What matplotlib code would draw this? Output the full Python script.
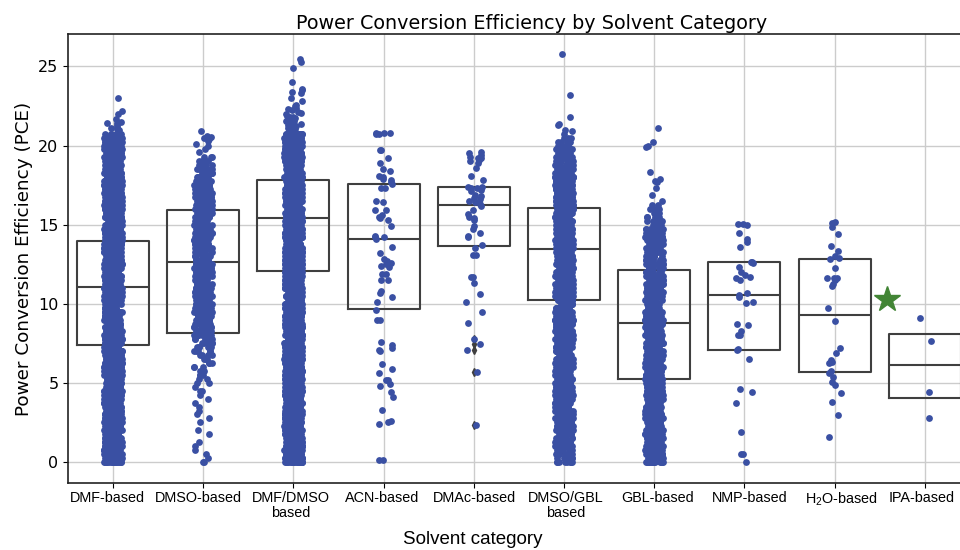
import matplotlib
matplotlib.use("Agg")
import matplotlib.pyplot as plt
from matplotlib.transforms import offset_copy
import numpy as np

# categories and tick labels
categories = ["DMF-based", "DMSO-based", "DMF/DMSO based", "ACN-based", "DMAc-based",
              "DMSO/GBL based", "GBL-based", "NMP-based", "H2O-based", "IPA-based"]
tick_labels = ["DMF-based", "DMSO-based", "DMF/DMSO\nbased", "ACN-based", "DMAc-based",
               "DMSO/GBL\nbased", "GBL-based", "NMP-based", "H$_2$O-based", "IPA-based"]

# box statistics
q1 = [7.40, 8.17, 12.07, 9.67, 13.65, 10.24, 5.27, 7.08, 5.69, 4.03]
med = [11.04, 12.62, 15.40, 14.10, 16.22, 13.44, 8.77, 10.56, 9.31, 6.13]
q3 = [13.97, 15.93, 17.83, 17.55, 17.40, 16.03, 12.14, 12.62, 12.83, 8.07]
fliers = [[], [], [], [], [7.8, 7.46, 7.1, 5.7, 2.34], [0.55, 1.0, 1.5], [], [], [], []]

# highlighted device (green star)
star_pos = [8.58]
star_pce = [10.28]

# dense columns: how many points sit at each PCE level (one row = 3 PCE units)
pce_levels = [
    0.0, 0.25, 0.5, 0.75, 1.0, 1.25, 1.5, 1.75, 2.0, 2.25, 2.5, 2.75,
    3.0, 3.25, 3.5, 3.75, 4.0, 4.25, 4.5, 4.75, 5.0, 5.25, 5.5, 5.75,
    6.0, 6.25, 6.5, 6.75, 7.0, 7.25, 7.5, 7.75, 8.0, 8.25, 8.5, 8.75,
    9.0, 9.25, 9.5, 9.75, 10.0, 10.25, 10.5, 10.75, 11.0, 11.25, 11.5, 11.75,
    12.0, 12.25, 12.5, 12.75, 13.0, 13.25, 13.5, 13.75, 14.0, 14.25, 14.5, 14.75,
    15.0, 15.25, 15.5, 15.75, 16.0, 16.25, 16.5, 16.75, 17.0, 17.25, 17.5, 17.75,
    18.0, 18.25, 18.5, 18.75, 19.0, 19.25, 19.5, 19.75, 20.0, 20.25, 20.5, 20.75,
]
dmf_counts = [
    20, 20, 20, 20, 20, 20, 20, 20, 20, 20, 20, 20,
    20, 20, 20, 20, 20, 20, 20, 20, 20, 20, 20, 20,
    20, 20, 20, 20, 20, 20, 20, 20, 20, 20, 20, 20,
    20, 20, 20, 20, 20, 20, 20, 20, 20, 20, 20, 20,
    20, 20, 20, 20, 20, 20, 20, 20, 20, 20, 20, 20,
    20, 20, 20, 20, 20, 20, 20, 20, 20, 20, 20, 20,
    20, 20, 20, 20, 20, 20, 20, 20, 20, 18, 12, 5,
]
dmso_counts = [
    2, 1, 1, 1, 1, 1, 0, 1, 1, 0, 1, 1,
    1, 1, 1, 1, 1, 1, 2, 1, 2, 2, 3, 3,
    3, 3, 4, 4, 5, 5, 6, 8, 10, 12, 12, 12,
    12, 12, 12, 12, 12, 12, 12, 12, 12, 12, 12, 12,
    12, 12, 12, 12, 12, 12, 12, 12, 12, 12, 12, 12,
    12, 12, 12, 12, 12, 12, 12, 12, 12, 12, 12, 12,
    10, 9, 7, 5, 4, 3, 0, 0, 0, 0, 0, 0,
]
dmfdmso_counts = [
    20, 20, 20, 20, 20, 20, 20, 20, 20, 20, 20, 20,
    20, 20, 20, 20, 20, 20, 20, 20, 20, 20, 20, 20,
    20, 20, 20, 20, 20, 20, 20, 20, 20, 20, 20, 20,
    20, 20, 20, 20, 20, 20, 20, 20, 20, 20, 20, 20,
    20, 20, 20, 20, 20, 20, 20, 20, 20, 20, 20, 20,
    20, 20, 20, 20, 20, 20, 20, 20, 20, 20, 20, 20,
    20, 20, 20, 20, 20, 20, 20, 20, 20, 20, 20, 18,
]
dmsogbl_counts = [
    8, 8, 9, 9, 10, 10, 11, 12, 13, 14, 15, 15,
    16, 16, 16, 16, 16, 16, 16, 16, 16, 16, 16, 16,
    16, 16, 16, 16, 16, 16, 16, 16, 16, 16, 16, 16,
    16, 16, 16, 16, 16, 16, 16, 16, 16, 16, 16, 16,
    16, 16, 16, 16, 16, 16, 16, 16, 16, 16, 16, 16,
    16, 16, 16, 16, 16, 16, 16, 16, 16, 16, 16, 16,
    14, 13, 12, 11, 10, 9, 8, 7, 6, 5, 3, 1,
]
gbl_counts = [
    14, 14, 13, 12, 12, 12, 12, 12, 12, 12, 12, 12,
    12, 12, 12, 12, 12, 12, 12, 12, 12, 12, 12, 12,
    12, 12, 12, 12, 12, 12, 12, 12, 12, 12, 12, 12,
    12, 12, 12, 12, 12, 12, 12, 12, 12, 12, 12, 12,
    12, 12, 12, 12, 11, 11, 10, 10, 9, 9, 8, 8,
    7, 6, 5, 4, 3, 2, 1, 0, 0, 0, 0, 0,
    0, 0, 0, 0, 0, 0, 0, 0, 0, 0, 0, 0,
]

# single points outside the dense parts
dmf_extra = [21.0, 21.05, 21.1, 21.2, 21.3, 21.4, 21.45, 21.5, 21.7, 22.0, 22.2, 23.0]
dmso_extra = [19.6, 19.8, 20.0, 20.1, 20.3, 20.4, 20.5, 20.55, 20.6, 20.9]
dmfdmso_extra = [21.0, 21.02, 21.05, 21.08, 21.1, 21.12, 21.25, 21.28, 21.3, 21.33,
                 21.35, 21.5, 21.52, 21.55, 21.6, 21.75, 21.78, 21.8, 21.85, 22.0,
                 22.05, 22.1, 22.25, 22.3, 22.35, 22.5, 22.55, 22.8, 23.0, 23.3,
                 23.4, 23.5, 23.55, 24.0, 24.9, 25.3, 25.45]
dmsogbl_extra = [20.9, 21.0, 21.3, 21.35, 21.8, 23.2, 25.77]
gbl_extra = [16.9, 17.3, 17.7, 17.75, 17.9, 18.3, 19.9, 19.95, 20.2, 21.1]

acn_pce = [20.8, 20.8, 20.75, 20.8, 20.7, 19.7, 19.7, 19.2, 18.9, 18.5, 18.4, 18.0,
           17.8, 17.7, 17.9, 18.1, 17.6, 17.3, 17.3, 16.5, 16.4, 15.9, 15.9, 15.6,
           15.4, 15.5, 15.3, 14.9, 14.3, 14.2, 14.1, 14.2, 13.6, 13.2, 12.8, 12.6,
           12.5, 12.4, 12.7, 12.3, 11.9, 11.9, 11.5, 11.5, 10.8, 10.7, 10.4, 10.1,
           9.6, 9.0, 9.0, 7.6, 7.4, 7.2, 7.1, 7.0, 6.2, 5.9, 5.6, 5.2, 5.2, 4.9,
           4.8, 4.4, 4.1, 3.3, 2.6, 2.5, 2.4, 0.1, 0.1]
dmac_pce = [19.6, 19.5, 19.4, 19.3, 19.2, 19.1, 19.2, 19.0, 18.9, 18.6, 18.1, 17.8,
            17.4, 17.3, 17.2, 17.1, 17.4, 17.3, 16.9, 16.8, 16.6, 16.5, 16.3, 16.2,
            16.4, 16.7, 15.9, 15.7, 15.5, 15.4, 15.3, 14.9, 14.7, 14.5, 14.3, 14.2,
            13.7, 13.5, 13.1, 13.1, 11.7, 11.7, 11.3, 10.6, 10.1, 9.5, 8.8, 7.8,
            7.46, 7.1, 5.7, 2.34]
nmp_pce = [15.04, 15.04, 15.0, 14.5, 14.08, 13.9, 13.57, 12.62, 12.6, 12.65, 12.3,
           12.03, 11.8, 11.7, 11.6, 11.5, 10.7, 10.56, 10.45, 10.13, 10.03, 8.66,
           8.7, 8.3, 8.03, 8.0, 7.14, 7.1, 6.51, 4.61, 4.44, 3.75, 1.88, 0.5, 0.5, 0.0]
h2o_pce = [15.19, 15.13, 14.88, 14.41, 13.67, 13.34, 13.0, 12.8, 12.9, 12.28, 11.6,
           11.6, 11.65, 11.5, 11.25, 11.13, 9.71, 8.91, 7.19, 6.91, 6.45, 6.28, 6.3,
           5.75, 5.64, 5.39, 5.08, 4.87, 4.34, 3.81, 2.97, 1.6]
ipa_pce = [9.08, 7.67, 4.42, 2.78]

point_color = "#3a50a3"
box_color = "#3f3f3f"


def expand(counts, extra):
    return np.concatenate([np.repeat(pce_levels, counts), extra])


pce = [
    expand(dmf_counts, dmf_extra),
    expand(dmso_counts, dmso_extra),
    expand(dmfdmso_counts, dmfdmso_extra),
    np.array(acn_pce),
    np.array(dmac_pce),
    expand(dmsogbl_counts, dmsogbl_extra),
    expand(gbl_counts, gbl_extra),
    np.array(nmp_pce),
    np.array(h2o_pce),
    np.array(ipa_pce),
]

plt.rcParams["mathtext.default"] = "regular"

fig = plt.figure(figsize=(9.6, 5.5), dpi=100)
ax = fig.add_axes([0.0711, 0.1224, 0.9289, 0.8152])

# strip plot: +-0.1 horizontal jitter around each category
rng = np.random.default_rng(11)
for i, vals in enumerate(pce):
    xs = i + rng.uniform(-0.1, 0.1, len(vals))
    ax.scatter(xs, vals, s=24, color=point_color, linewidths=0, zorder=3)

stats = [dict(q1=a, med=m, q3=b, whislo=a, whishi=b, fliers=f)
         for a, m, b, f in zip(q1, med, q3, fliers)]
ax.bxp(stats, positions=range(len(categories)), widths=0.8, showcaps=False,
       manage_ticks=False, zorder=2,
       boxprops=dict(color=box_color, linewidth=1.5),
       medianprops=dict(color=box_color, linewidth=1.5),
       whiskerprops=dict(visible=False),
       flierprops=dict(marker="d", markerfacecolor=box_color, markeredgecolor=box_color,
                       markersize=4))

ax.plot(star_pos, star_pce, marker="*", markersize=19, color="#428535", linestyle="none", zorder=4)

ax.set_xlim(-0.496, 9.39)
ax.set_ylim(-1.31, 27.03)
ax.set_yticks([0, 5, 10, 15, 20, 25])
ax.set_xticks(range(len(categories)))
ax.set_xticklabels([])
# category labels sit slightly more spread out than the ticks in the source
label_dx = [-6, -4.4, -2.8, -1.2, 0.4, 2, 3.6, 5.2, 6.8, -3]
for i, lab in enumerate(tick_labels):
    tr = offset_copy(ax.get_xaxis_transform(), fig=fig, x=label_dx[i], y=-8, units="dots")
    ax.text(i, 0, lab, transform=tr, ha="center", va="top", multialignment="center",
            fontfamily="Liberation Sans", fontsize=10.4, linespacing=1.15)
ax.tick_params(axis="y", labelsize=11.5, length=3.5, width=0.8)
ax.tick_params(axis="x", length=3.5, width=0.8)
ax.grid(True, color="#cccccc", linewidth=1.0)
ax.set_axisbelow(True)
for s in ["left", "bottom", "top"]:
    ax.spines[s].set_linewidth(1.2)
    ax.spines[s].set_color("#222222")
ax.spines["right"].set_visible(False)

ax.set_title("Power Conversion Efficiency by Solvent Category", fontsize=13.8, x=0.52, pad=4)
ax.set_ylabel("Power Conversion Efficiency (PCE)", fontsize=13.2)
fig.text(473 / 960, 1 - 540 / 550, "Solvent category", fontfamily="Liberation Sans",
         fontsize=13.5, ha="center", va="center")

fig.savefig("out.png", dpi=100)
